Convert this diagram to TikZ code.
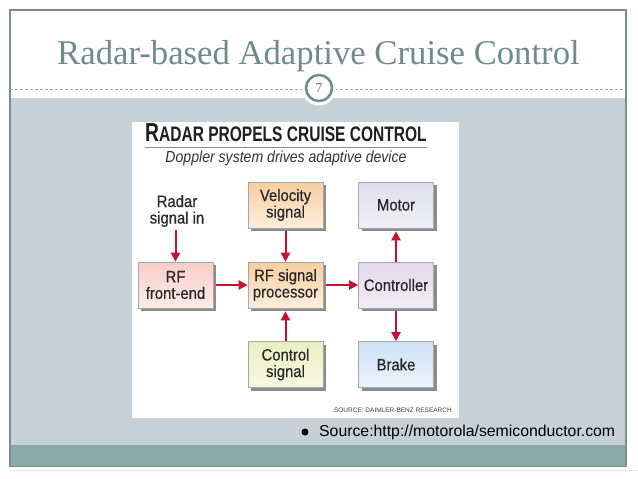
\documentclass[tikz,border=0pt]{standalone}
\usepackage{fontspec}
\setmainfont{Liberation Serif}
\newfontfamily\arial{Liberation Sans}
\newfontfamily\narrow[FakeStretch=0.9,FakeBold=0.5]{Liberation Sans}
\newfontfamily\subfont[FakeStretch=0.88]{Liberation Sans}
\newfontfamily\headfont[FakeStretch=0.74]{Liberation Sans}
\usetikzlibrary{arrows.meta,shadows,shadings}
\definecolor{titlecol}{RGB}{112,140,138}
\definecolor{framecol}{RGB}{125,140,142}
\definecolor{contentbg}{RGB}{198,208,214}
\definecolor{bandcol}{RGB}{138,170,168}
\definecolor{dashcol}{RGB}{150,165,165}
\definecolor{arrowred}{RGB}{200,16,46}
\definecolor{boxtext}{RGB}{40,40,40}
\tikzset{
  diagbox/.style={draw=black!35, line width=0.6pt, minimum width=75pt, minimum height=46pt,
    align=center, inner sep=1pt, font=\narrow\fontsize{16.5}{16.5}\selectfont, text=boxtext,
    drop shadow={shadow xshift=3pt, shadow yshift=-3pt, fill=black!45, opacity=1}},
  redarrow/.style={draw=arrowred, line width=2pt, -{Triangle[width=9pt,length=9pt]}},
}
\begin{document}
\begin{tikzpicture}[x=1pt,y=-1pt]
\useasboundingbox (0,0) rectangle (638,479);
\fill[white] (0,0) rectangle (638,479);
% slide areas
\fill[contentbg] (10,97.5) rectangle (626,445);
\fill[bandcol] (10,445) rectangle (626,466.5);
\draw[black!8, line width=0.6pt] (10,470) -- (638,470);
\draw[framecol, line width=1.3pt] (10,10) rectangle (626,466.5);
\draw[dashcol, line width=0.8pt, dash pattern=on 3pt off 2pt] (10,89.5) -- (626,89.5);
% title
\node[anchor=base, text=titlecol, font=\fontsize{34.7}{40}\selectfont, inner sep=0pt] (title) at (318.5,64) {Radar-based Adaptive Cruise Control};
% slide number
\fill[white] (319,88) circle (17.5);
\node[circle, draw=titlecol, line width=2.5pt, fill=white, minimum size=26pt, inner sep=0pt,
  text=titlecol!80!black, font=\fontsize{13.5}{13.5}\selectfont] (num) at (319,88) {7};
% picture panel
\fill[white] (132,122) rectangle (459,418);
\node[anchor=base west, inner sep=0pt, text=black!88, font=\headfont\bfseries\fontsize{21}{21}\selectfont] (head) at (145,141) {{\fontsize{26}{26}\selectfont R}ADAR PROPELS CRUISE CONTROL};
\draw[black!45, line width=0.8pt] (145,147) -- (427,147);
\node[inner sep=0pt, text=black!80, font=\subfont\itshape\fontsize{16}{16}\selectfont] (sub) at (286,158) {Doppler system drives adaptive device};
% boxes
\node[diagbox, top color={rgb,255:red,248;green,205;blue,200}, bottom color={rgb,255:red,253;green,236;blue,233}] (rf) at (175.5,285) {RF\\front-end};
\node[diagbox, top color={rgb,255:red,247;green,205;blue,160}, bottom color={rgb,255:red,253;green,238;blue,220}] (proc) at (285.5,285) {RF signal\\processor};
\node[diagbox, top color={rgb,255:red,228;green,215;blue,235}, bottom color={rgb,255:red,243;green,236;blue,245}] (ctrl) at (396,285) {Controller};
\node[diagbox, top color={rgb,255:red,247;green,205;blue,160}, bottom color={rgb,255:red,253;green,238;blue,220}] (vel) at (285.5,205) {Velocity\\signal};
\node[diagbox, top color={rgb,255:red,222;green,222;blue,238}, bottom color={rgb,255:red,240;green,240;blue,248}] (motor) at (396,205) {Motor};
\node[diagbox, top color={rgb,255:red,235;green,238;blue,195}, bottom color={rgb,255:red,248;green,249;blue,228}] (csig) at (285.5,364.5) {Control\\signal};
\node[diagbox, top color={rgb,255:red,205;green,225;blue,245}, bottom color={rgb,255:red,235;green,243;blue,250}] (brake) at (396,364.5) {Brake};
\node[align=center, inner sep=1pt, text=boxtext, font=\narrow\fontsize{16.5}{16.5}\selectfont] (radar) at (177,211) {Radar\\signal in};
% arrows
\coordinate (rs) at (175.5,230);
\draw[redarrow] (rs) -- (rf.north);
\draw[redarrow, shorten <=3pt] (vel.south) -- (proc.north);
\draw[redarrow] (csig.north) -- ([yshift=-3pt]proc.south);
\draw[redarrow, shorten <=3pt] (rf.east) -- (proc.west);
\draw[redarrow, shorten <=3pt] (proc.east) -- (ctrl.west);
\draw[redarrow] (ctrl.north) -- ([yshift=-3pt]motor.south);
\draw[redarrow, shorten <=3pt] (ctrl.south) -- (brake.north);
% source
\node[anchor=east, inner sep=0pt, text=black!75, font=\arial\fontsize{6.5}{7}\selectfont] (src) at (452,410) {SOURCE: DAIMLER-BENZ RESEARCH};
% bullet
\fill[black] (305,432) circle (3.5) coordinate (bul);
\node[anchor=west, inner sep=0pt, font=\arial\fontsize{15.8}{16}\selectfont] (srcurl) at (319,432.5) {Source:http://motorola/semiconductor.com};
\end{tikzpicture}
\end{document}
